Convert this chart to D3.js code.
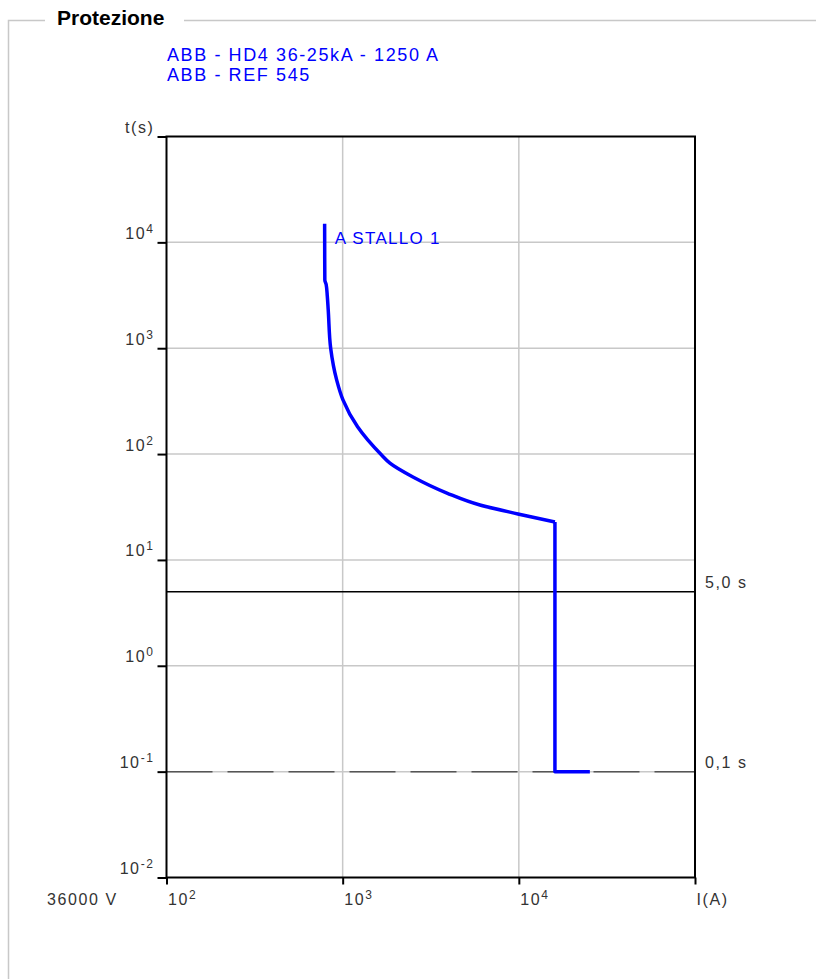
<!DOCTYPE html>
<html>
<head>
<meta charset="utf-8">
<script src="https://cdn.jsdelivr.net/npm/d3@7"></script>
<style>
body { margin: 0; background: #fff; }
text { font-family: "Liberation Sans", Arial, sans-serif; }
</style>
</head>
<body>
<div id="chart"></div>
<script>
// curve points (current in A, time in s)
var curveI = [790, 792, 806, 818, 828, 855, 925, 1004, 1215, 1663, 1855, 2505, 3907, 6017, 9880, 16030];
var curveT = [15000, 4400, 4000, 3100, 2300, 1000, 500, 325, 181, 98, 82, 60.7, 42.8, 33, 27.2, 22.8];
// instantaneous step
var stepI = [16030, 16030, 25300];
var stepT = [22.8, 0.1, 0.1];

var yTicks = [0.01, 0.1, 1, 10, 100, 1000, 10000, 100000];
var xTicks = [100, 1000, 10000, 100000];
var levelTimes = [5, 0.1];
var levelLabels = ["5,0 s", "0,1 s"];
var titleLines = ["ABB - HD4 36-25kA - 1250 A", "ABB - REF 545"];
var curveName = "A STALLO 1";
var voltage = "36000 V";

var blue = "#0000ff";

var svg = d3.select("#chart").append("svg")
    .attr("width", 816)
    .attr("height", 979);

var x = d3.scaleLog().domain([100, 100000]).range([166.5, 695]);
var y = d3.scaleLog().domain([0.01, 100000]).range([877.5, 136.5]);

// fieldset frame
svg.append("path")
    .attr("d", "M45,20.5H8.5V979M184,20.5H816")
    .attr("fill", "none")
    .attr("stroke", "#c8c8c8")
    .attr("stroke-width", 1.5);

svg.append("text")
    .attr("x", 57)
    .attr("y", 25)
    .style("font-size", "21px")
    .style("font-weight", "bold")
    .text("Protezione");

svg.selectAll(".title")
    .data(titleLines)
    .enter().append("text")
    .attr("class", "title")
    .attr("x", 167)
    .attr("y", function (d, i) { return 61 + i * 20; })
    .attr("fill", blue)
    .style("font-size", "18px")
    .style("letter-spacing", "1.6px")
    .text(function (d) { return d; });

// grid
svg.append("g").selectAll("line")
    .data(xTicks.slice(1, -1))
    .enter().append("line")
    .attr("x1", function (d) { return x(d); })
    .attr("x2", function (d) { return x(d); })
    .attr("y1", y(100000))
    .attr("y2", y(0.01))
    .attr("stroke", "#c8c8c8")
    .attr("stroke-width", 1.5);

svg.append("g").selectAll("line")
    .data(yTicks.slice(1, -1))
    .enter().append("line")
    .attr("x1", x(100))
    .attr("x2", x(100000))
    .attr("y1", function (d) { return y(d); })
    .attr("y2", function (d) { return y(d); })
    .attr("stroke", "#c8c8c8")
    .attr("stroke-width", 1.5);

// time levels
svg.append("g").selectAll("line")
    .data(levelTimes)
    .enter().append("line")
    .attr("x1", x(100))
    .attr("x2", x(100000))
    .attr("y1", function (d) { return y(d); })
    .attr("y2", function (d) { return y(d); })
    .attr("stroke", function (d, i) { return i == 0 ? "#000" : "#555"; })
    .attr("stroke-width", 1.5)
    .attr("stroke-dasharray", function (d, i) { return i == 0 ? null : "46,15"; });

svg.append("g").selectAll("text")
    .data(levelTimes)
    .enter().append("text")
    .attr("x", x(100000) + 10)
    .attr("y", function (d) { return y(d) - 4; })
    .attr("fill", "#333")
    .style("font-size", "16px")
    .style("letter-spacing", "1.6px")
    .text(function (d, i) { return levelLabels[i]; });

// axes
var yAxis = svg.append("g")
    .attr("transform", "translate(" + x(100) + ",0)")
    .call(d3.axisLeft(y).tickValues(yTicks).tickSize(9).tickFormat(""));
yAxis.select(".domain").remove();
yAxis.selectAll(".tick text").remove();
yAxis.selectAll(".tick line").attr("stroke", "#000").attr("stroke-width", 2);

var xAxis = svg.append("g")
    .attr("transform", "translate(0," + y(0.01) + ")")
    .call(d3.axisBottom(x).tickValues(xTicks).tickSize(7).tickFormat(""));
xAxis.select(".domain").remove();
xAxis.selectAll(".tick text").remove();
xAxis.selectAll(".tick line").attr("stroke", "#000").attr("stroke-width", 2);

function powerLabel(sel, d) {
    sel.append("tspan").text("10");
    sel.append("tspan")
        .attr("dy", -6)
        .style("font-size", "12px")
        .text(Math.round(Math.log10(d)));
}

yAxis.selectAll(".tick").append("text")
    .attr("x", -12)
    .attr("y", -4)
    .attr("text-anchor", "end")
    .attr("fill", "#333")
    .style("font-size", "16px")
    .style("letter-spacing", "1.6px")
    .each(function (d) {
        if (d == 100000) d3.select(this).text("t(s)");
        else powerLabel(d3.select(this), d);
    });

xAxis.selectAll(".tick").append("text")
    .attr("x", 1)
    .attr("y", 27.5)
    .attr("text-anchor", "start")
    .attr("fill", "#333")
    .style("font-size", "16px")
    .style("letter-spacing", "1.6px")
    .each(function (d) {
        if (d == 100000) d3.select(this).text("I(A)");
        else powerLabel(d3.select(this), d);
    });

svg.append("text")
    .attr("x", 47)
    .attr("y", y(0.01) + 27.5)
    .attr("fill", "#333")
    .style("font-size", "16px")
    .style("letter-spacing", "1.6px")
    .text(voltage);

svg.append("rect")
    .attr("x", x(100))
    .attr("y", y(100000))
    .attr("width", x(100000) - x(100))
    .attr("height", y(0.01) - y(100000))
    .attr("fill", "none")
    .attr("stroke", "#000")
    .attr("stroke-width", 2);

// protection curve
var curvePts = curveI.map(function (d, i) { return [d, curveT[i]]; });
var stepPts = stepI.map(function (d, i) { return [d, stepT[i]]; });

// time falls steadily, so the curve can be smoothed along y
var smooth = d3.line()
    .x(function (d) { return x(d[0]); })
    .y(function (d) { return y(d[1]); })
    .curve(d3.curveMonotoneY);
var straight = d3.line()
    .x(function (d) { return x(d[0]); })
    .y(function (d) { return y(d[1]); });

svg.append("path")
    .datum(curvePts)
    .attr("d", smooth)
    .attr("fill", "none")
    .attr("stroke", blue)
    .attr("stroke-width", 3.5)
    .attr("stroke-linejoin", "round");

svg.append("path")
    .datum(stepPts)
    .attr("d", straight)
    .attr("fill", "none")
    .attr("stroke", blue)
    .attr("stroke-width", 3.5)
    .attr("stroke-linejoin", "round");

svg.append("text")
    .attr("x", x(curveI[0]) + 10)
    .attr("y", y(10000) + 2)
    .attr("fill", blue)
    .style("font-size", "17px")
    .style("letter-spacing", "1.3px")
    .text(curveName);
</script>
</body>
</html>
